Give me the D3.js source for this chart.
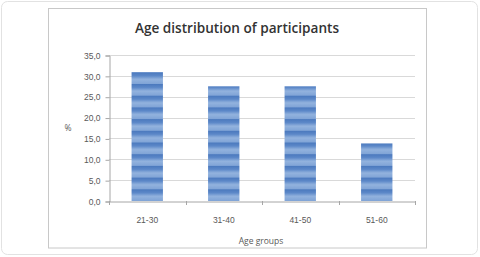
<!DOCTYPE html>
<html>
<head>
<meta charset="utf-8">
<script src="https://cdn.jsdelivr.net/npm/d3@7"></script>
<style>
  body { margin: 0; background: #fff; }
  svg { display: block; font-family: "Open Sans", sans-serif; }
</style>
</head>
<body>
<div id="chart"></div>
<script>
const categories = ["21-30", "31-40", "41-50", "51-60"];
const values = [30.9, 27.5, 27.5, 13.8];
const yTicks = [0, 5, 10, 15, 20, 25, 30, 35];

const W = 480, H = 257;
const plot = {left: 109, right: 415, top: 55, bottom: 201};

const svg = d3.select("#chart").append("svg")
  .attr("width", W)
  .attr("height", H);

// outer frame and chart frame
svg.append("rect")
  .attr("x", 1.5).attr("y", 1.5)
  .attr("width", W - 4).attr("height", H - 4)
  .attr("rx", 6)
  .attr("fill", "#fff")
  .attr("stroke", "#e2e2e2");

svg.append("rect")
  .attr("x", 48.5).attr("y", 8.5)
  .attr("width", 378).attr("height", 239.5)
  .attr("fill", "#fff")
  .attr("stroke", "#c8c8c8");

// striped bar fill
const defs = svg.append("defs");
const grad = defs.append("linearGradient")
  .attr("id", "stripeGrad")
  .attr("x1", 0).attr("y1", 0).attr("x2", 0).attr("y2", 1);
grad.append("stop").attr("offset", "0%").attr("stop-color", "#4a78bd");
grad.append("stop").attr("offset", "30%").attr("stop-color", "#5c88c8");
grad.append("stop").attr("offset", "60%").attr("stop-color", "#93b3de");
grad.append("stop").attr("offset", "100%").attr("stop-color", "#7fa3d6");

defs.append("pattern")
  .attr("id", "stripes")
  .attr("patternUnits", "userSpaceOnUse")
  .attr("x", 0).attr("y", plot.bottom)
  .attr("width", 10).attr("height", 11.7)
  .append("rect")
  .attr("width", 10).attr("height", 11.7)
  .attr("fill", "url(#stripeGrad)");

const x = d3.scaleBand()
  .domain(categories)
  .range([plot.left, plot.right])
  .paddingInner(0.59)
  .paddingOuter(0.295);

const y = d3.scaleLinear()
  .domain([0, 35])
  .range([plot.bottom, plot.top]);

// gridlines
svg.append("g")
  .selectAll("line")
  .data(yTicks.filter(d => d > 0))
  .join("line")
  .attr("x1", plot.left).attr("x2", plot.right)
  .attr("y1", d => Math.round(y(d)) + 0.5)
  .attr("y2", d => Math.round(y(d)) + 0.5)
  .attr("stroke", "#d9d9d9");

// y axis
const yAxis = svg.append("g")
  .attr("transform", `translate(${plot.left + 0.5},0.5)`)
  .call(d3.axisLeft(y).tickValues(yTicks).tickSize(4).tickPadding(5)
    .tickFormat(d => d3.format(".1f")(d).replace(".", ",")));
yAxis.select(".domain").attr("stroke", "#a6a6a6");
yAxis.selectAll(".tick line").attr("stroke", "#a6a6a6");
yAxis.selectAll("text")
  .attr("fill", "#595959")
  .style("font-size", "8.5px");

// bars
svg.append("g")
  .selectAll("rect")
  .data(values)
  .join("rect")
  .attr("x", (d, i) => x(categories[i]))
  .attr("width", x.bandwidth())
  .attr("y", d => y(d))
  .attr("height", d => plot.bottom - y(d))
  .attr("fill", "url(#stripes)");

// x axis
const xAxis = svg.append("g")
  .attr("transform", `translate(0,${plot.bottom + 0.5})`)
  .call(d3.axisBottom(x).tickSize(0).tickPadding(15));
xAxis.select(".domain").attr("stroke", "#a6a6a6");
xAxis.selectAll("text")
  .attr("fill", "#595959")
  .style("font-size", "8.5px");

// category boundary ticks
const step = (plot.right - plot.left) / categories.length;
svg.append("g")
  .selectAll("line")
  .data(d3.range(categories.length + 1))
  .join("line")
  .attr("x1", i => Math.round(plot.left + i * step) + 0.5)
  .attr("x2", i => Math.round(plot.left + i * step) + 0.5)
  .attr("y1", plot.bottom)
  .attr("y2", plot.bottom + 4)
  .attr("stroke", "#a6a6a6");

// titles
svg.append("text")
  .attr("x", 237).attr("y", 33)
  .attr("text-anchor", "middle")
  .attr("fill", "#333")
  .style("font-size", "13.6px")
  .style("font-weight", "600")
  .text("Age distribution of participants");

svg.append("text")
  .attr("x", 68).attr("y", 131)
  .attr("text-anchor", "middle")
  .attr("fill", "#595959")
  .style("font-size", "8.5px")
  .text("%");

svg.append("text")
  .attr("x", 261).attr("y", 244)
  .attr("text-anchor", "middle")
  .attr("fill", "#595959")
  .style("font-size", "8.5px")
  .text("Age groups");
</script>
</body>
</html>
